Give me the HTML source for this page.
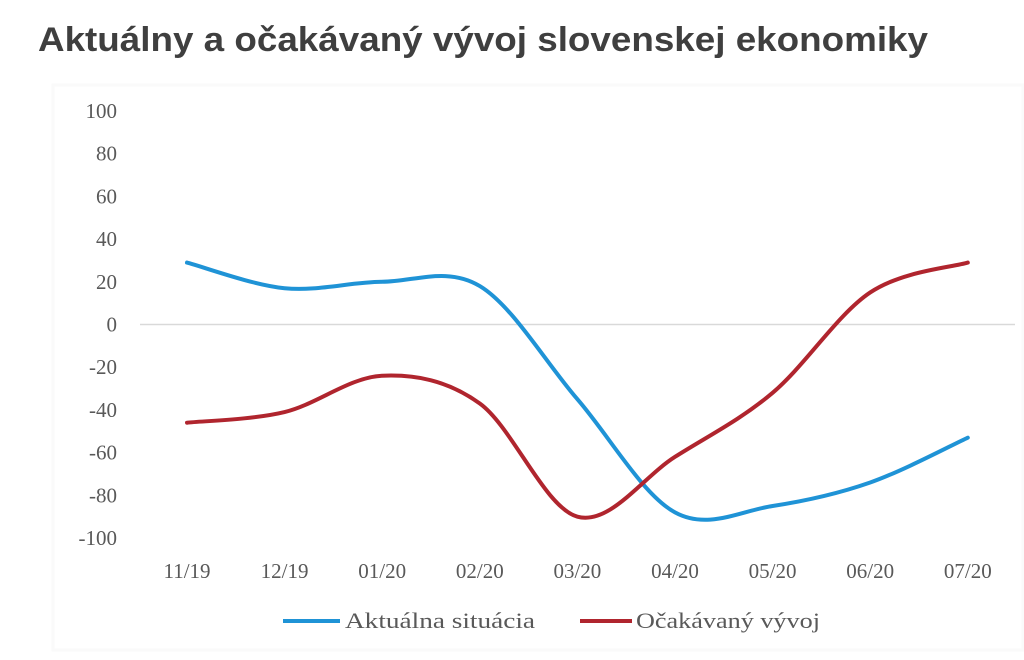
<!DOCTYPE html>
<html><head><meta charset="utf-8"><style>
body{margin:0;background:#fff;width:1024px;height:660px;overflow:hidden}
svg{display:block}
</style></head><body>
<svg width="1024" height="660">
<text x="38" y="51" font-family="Liberation Sans, sans-serif" font-weight="bold" font-size="34" fill="#3f3f3f" textLength="890" lengthAdjust="spacingAndGlyphs">Aktuálny a očakávaný vývoj slovenskej ekonomiky</text>
<rect x="53" y="85" width="970" height="565" fill="none" stroke="#fafafa" stroke-width="3"/>
<g id="yaxis"></g>
<g id="xaxis"></g>
<line x1="140" x2="1015" y1="324.5" y2="324.5" stroke="#d9d9d9" stroke-width="1.5"/>
<g id="series"></g>
<g font-family="Liberation Serif, serif" font-size="22" fill="#595959">
<line x1="283" x2="340" y1="621" y2="621" stroke="#1f93d6" stroke-width="4"/>
<text x="345" y="628" textLength="190" lengthAdjust="spacingAndGlyphs">Aktuálna situácia</text>
<line x1="580" x2="632" y1="621" y2="621" stroke="#b0252e" stroke-width="4"/>
<text x="636" y="628" textLength="184" lengthAdjust="spacingAndGlyphs">Očakávaný vývoj</text>
</g>
</svg>
<script>
const categories=["11/19","12/19","01/20","02/20","03/20","04/20","05/20","06/20","07/20"];
const actualValues=[29,17,20,18,-35,-88,-85,-74,-53];
const expectedValues=[-46,-41,-24,-37,-90,-62,-32,15,29];
const yTicks=[100,80,60,40,20,0,-20,-40,-60,-80,-100];
const NS="http://www.w3.org/2000/svg";
function xPos(i){return 187+i*97.6;}
function yPos(v){return 324.5-v*2.135;}
const yg=document.getElementById('yaxis');
yTicks.forEach(t=>{const e=document.createElementNS(NS,'text');
e.setAttribute('x',117);e.setAttribute('y',yPos(t)+7);e.setAttribute('text-anchor','end');
e.setAttribute('font-family','Liberation Serif, serif');e.setAttribute('font-size','21');e.setAttribute('fill','#595959');


e.textContent=t;yg.appendChild(e);});
const xg=document.getElementById('xaxis');
categories.forEach((c,i)=>{const e=document.createElementNS(NS,'text');
e.setAttribute('x',xPos(i));e.setAttribute('y',578);e.setAttribute('text-anchor','middle');
e.setAttribute('font-family','Liberation Serif, serif');e.setAttribute('font-size','21');e.setAttribute('fill','#595959');


e.textContent=c;xg.appendChild(e);});
function smooth(vals){const p=vals.map((v,i)=>[xPos(i),yPos(v)]);let d='M'+p[0][0]+','+p[0][1];
for(let i=0;i<p.length-1;i++){const p0=p[i-1]||p[i],p1=p[i],p2=p[i+1],p3=p[i+2]||p2;
const c1=[p1[0]+(p2[0]-p0[0])/6,p1[1]+(p2[1]-p0[1])/6],c2=[p2[0]-(p3[0]-p1[0])/6,p2[1]-(p3[1]-p1[1])/6];
d+=' C'+c1+' '+c2+' '+p2;}return d;}
const sg=document.getElementById('series');
[[actualValues,'#1f93d6','line-actual'],[expectedValues,'#b0252e','line-expected']].forEach(s=>{
const e=document.createElementNS(NS,'path');e.setAttribute('d',smooth(s[0]));e.setAttribute('fill','none');
e.setAttribute('stroke',s[1]);e.setAttribute('stroke-width','4');e.setAttribute('stroke-linecap','round');


sg.appendChild(e);});
</script>
</body></html>
